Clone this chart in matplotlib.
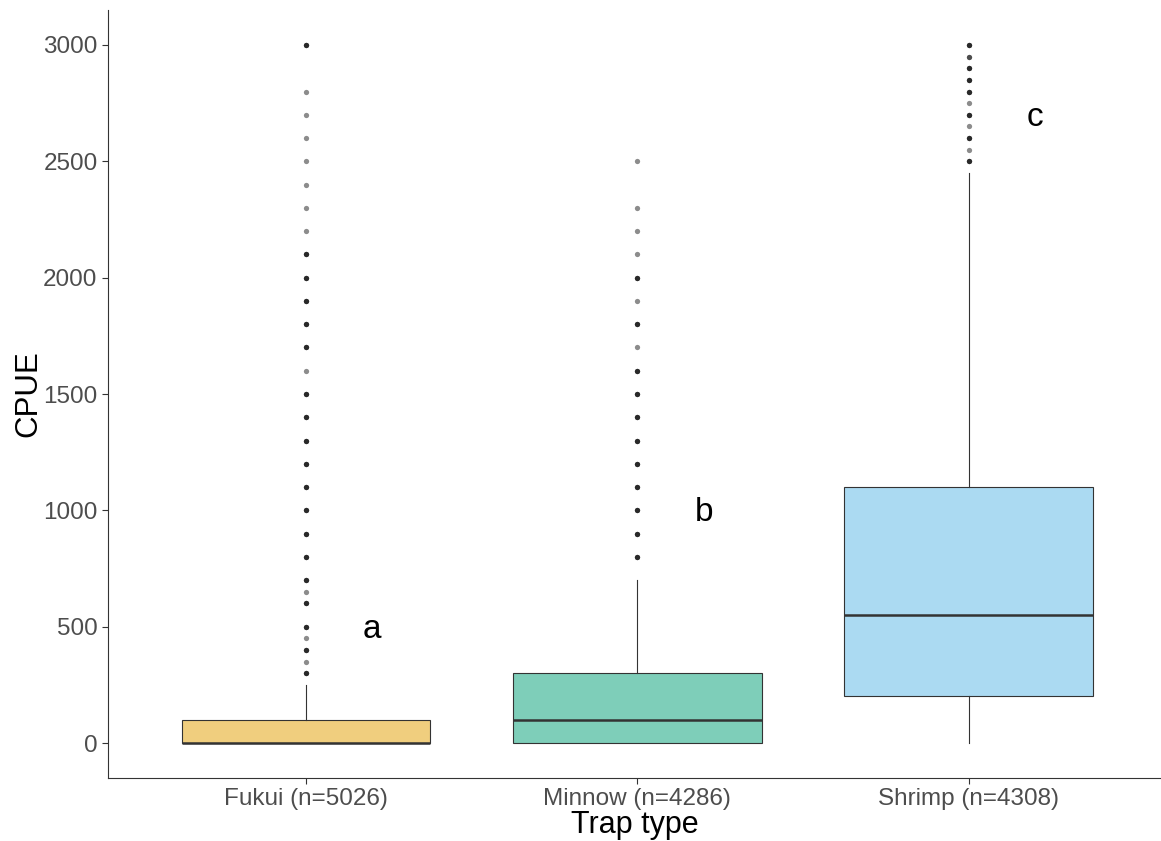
import matplotlib.pyplot as plt
import numpy as np

plt.rcParams["font.family"] = ["Liberation Sans", "DejaVu Sans"]

# Box summary per trap type (CPUE)
TRAPS = ["Fukui (n=5026)", "Minnow (n=4286)", "Shrimp (n=4308)"]
Q1 = [0, 0, 200]
MEDIAN = [0, 100, 550]
Q3 = [100, 300, 1100]
WHISK_LO = [0, 0, 0]
WHISK_HI = [250, 700, 2450]
FILLS = ["#F0CE7E", "#7ECEB9", "#ABDAF2"]

# Outlier values and how many samples sit on each value
FUKUI_OUT = [3000, 2800, 2700, 2600, 2500, 2400, 2300, 2200, 2100, 2000, 1900,
             1800, 1700, 1600, 1500, 1400, 1300, 1200, 1100, 1000, 900, 800,
             700, 650, 600, 500, 450, 400, 350, 300]
FUKUI_N = [3, 1, 1, 1, 1, 1, 1, 1, 3, 3, 3,
           3, 3, 1, 3, 3, 3, 3, 3, 3, 3, 3,
           3, 1, 3, 3, 1, 3, 1, 3]
MINNOW_OUT = [2500, 2300, 2200, 2100, 2000, 1900, 1800, 1700, 1600, 1500,
              1400, 1300, 1200, 1100, 1000, 900, 800]
MINNOW_N = [1, 1, 1, 1, 3, 1, 3, 1, 3, 3,
            3, 3, 3, 3, 3, 3, 3]
SHRIMP_OUT = [3000, 2950, 2900, 2850, 2800, 2750, 2700, 2650, 2600, 2550, 2500]
SHRIMP_N = [3, 2, 3, 3, 3, 1, 3, 1, 3, 1, 3]

LETTERS = ["a", "b", "c"]
LETTER_Y = [490, 990, 2690]

outliers = [
    np.repeat(FUKUI_OUT, FUKUI_N),
    np.repeat(MINNOW_OUT, MINNOW_N),
    np.repeat(SHRIMP_OUT, SHRIMP_N),
]

stats = []
for i, name in enumerate(TRAPS):
    stats.append({
        "label": name,
        "q1": Q1[i], "med": MEDIAN[i], "q3": Q3[i],
        "whislo": WHISK_LO[i], "whishi": WHISK_HI[i],
        "fliers": outliers[i],
    })

fig = plt.figure(figsize=(11.61, 8.41), dpi=100)
ax = fig.add_axes([0.093, 0.075, 0.907, 0.913])

bp = ax.bxp(
    stats,
    positions=[1, 2, 3],
    widths=0.75,
    patch_artist=True,
    showcaps=False,
    boxprops=dict(edgecolor="#333333", linewidth=0.8),
    whiskerprops=dict(color="#333333", linewidth=0.8),
    medianprops=dict(color="#333333", linewidth=1.8),
    flierprops=dict(marker="o", markerfacecolor="black", markeredgecolor="none",
                    markersize=3.8, alpha=0.45),
)
for patch, c in zip(bp["boxes"], FILLS):
    patch.set_facecolor(c)

for i, (lab, y) in enumerate(zip(LETTERS, LETTER_Y)):
    ax.text(i + 1.2, y, lab, ha="center", va="center", fontsize=24, color="black")

ax.set_xlim(0.403, 3.58)
ax.set_ylim(-150, 3150)
ax.set_yticks([0, 500, 1000, 1500, 2000, 2500, 3000])
ax.set_xticks([1, 2, 3])
ax.set_xticklabels(TRAPS)

ax.set_xlabel("Trap type", fontsize=22, labelpad=0)
ax.set_ylabel("CPUE", fontsize=22.5, labelpad=0)

for side in ["top", "right"]:
    ax.spines[side].set_visible(False)
for side in ["left", "bottom"]:
    ax.spines[side].set_color("#333333")
    ax.spines[side].set_linewidth(0.8)
ax.tick_params(axis="both", colors="#333333", labelcolor="#4D4D4D",
               labelsize=17.5, length=4, width=0.8)

fig.savefig("out.png", dpi=100)
